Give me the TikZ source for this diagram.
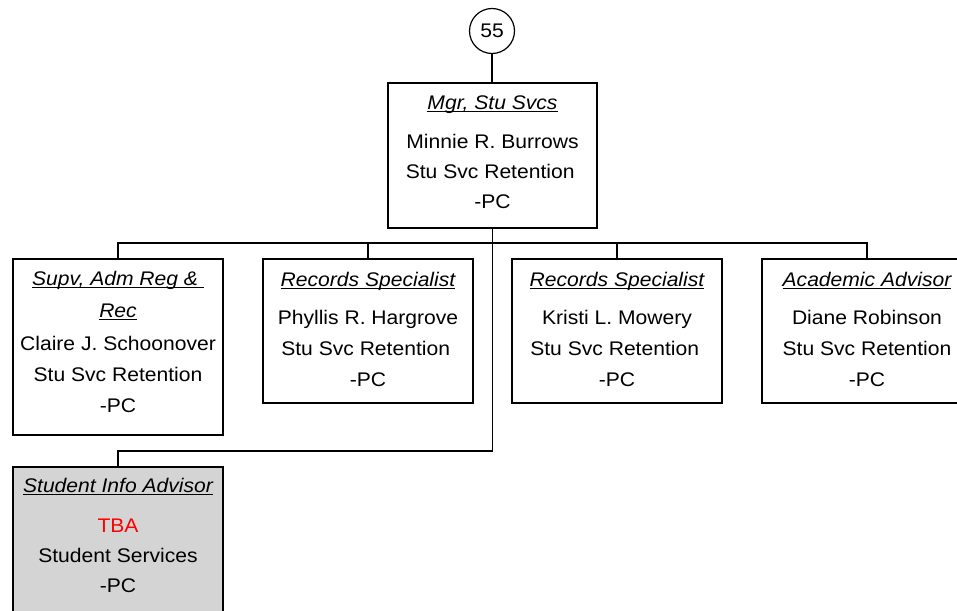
\documentclass[tikz,border=0pt]{standalone}
\usepackage{fontspec}
\setmainfont[FakeStretch=1.07]{Liberation Sans}
\newcommand\myul[1]{\setbox0=\hbox{\itshape #1}\rlap{\rule[-2.8pt]{\wd0}{1.1pt}}\box0}
\definecolor{boxgray}{RGB}{212,212,212}
\definecolor{tbared}{RGB}{255,0,0}
\begin{document}
\begin{tikzpicture}[x=1pt,y=-1pt,
  font=\fontsize{19.7}{22}\selectfont,
  box/.style={draw, line width=1.3pt, minimum width=210pt, anchor=north west, inner sep=0pt, outer sep=0pt},
  lbl/.style={inner sep=0pt, anchor=base},
  conn/.style={line width=1.3pt}]
\useasboundingbox (0,0) rectangle (957,610);

% top circle
\node[draw, circle, line width=1.2pt, minimum size=45pt, inner sep=0pt] (c55) at (492,31) {55};

% manager
\node[box, minimum width=209pt, minimum height=145pt] (mgr) at (388,83) {};
\node[lbl] (mgrT) at (492.5,109) {\myul{Mgr, Stu Svcs}};
\node[lbl] (mgrN) at (492.5,148) {Minnie R. Burrows};
\node[lbl] (mgrD) at (492.5,178) {Stu Svc Retention\phantom{i}};
\node[lbl] (mgrL) at (492.5,208) {-PC};

% row boxes
\node[box, minimum height=176pt] (supv) at (13,259) {};
\node[lbl] (supvT) at (118,285) {\myul{Supv, Adm Reg \&~}};
\node[lbl] (supvT2) at (118,317) {\myul{Rec}};
\node[lbl] (supvN) at (118,350) {Claire J. Schoonover};
\node[lbl] (supvD) at (118,381) {Stu Svc Retention};
\node[lbl] (supvL) at (118,412) {-PC};

\node[box, minimum height=144pt] (rec1) at (263,259) {};
\node[lbl] (rec1T) at (368,286) {\myul{Records Specialist}};
\node[lbl] (rec1N) at (368,324) {Phyllis R. Hargrove};
\node[lbl] (rec1D) at (368,355) {Stu Svc Retention\phantom{i}};
\node[lbl] (rec1L) at (368,386) {-PC};

\node[box, minimum height=144pt] (rec2) at (512,259) {};
\node[lbl] (rec2T) at (617,286) {\myul{Records Specialist}};
\node[lbl] (rec2N) at (617,324) {Kristi L. Mowery};
\node[lbl] (rec2D) at (617,355) {Stu Svc Retention\phantom{i}};
\node[lbl] (rec2L) at (617,386) {-PC};

\node[box, minimum height=144pt] (acad) at (762,259) {};
\node[lbl] (acadT) at (867,286) {\myul{Academic Advisor}};
\node[lbl] (acadN) at (867,324) {Diane Robinson};
\node[lbl] (acadD) at (867,355) {Stu Svc Retention};
\node[lbl] (acadL) at (867,386) {-PC};

% student info advisor
\node[box, fill=boxgray, minimum height=170pt] (sia) at (13,467) {};
\node[lbl] (siaT) at (118,492) {\myul{Student Info Advisor}};
\node[lbl, text=tbared] (siaN) at (118,532) {TBA};
\node[lbl] (siaD) at (118,562) {Student Services};
\node[lbl] (siaL) at (118,592) {-PC};

% connectors
\coordinate (busL) at (118,243);
\coordinate (busR) at (867,243);
\coordinate (bend1) at (492.5,451);
\coordinate (bend2) at (118,451);
\draw[conn] (c55.south) -- (mgr.north -| c55.south);
\draw[conn] (busL |- supv.north) -- (busL) -- (busR) -- (busR |- acad.north);
\draw[conn] (368,243) -- (rec1.north);
\draw[conn] (617,243) -- (rec2.north);
\draw[conn] (mgr.south -| bend1) -- (bend1) -- (bend2) -- (sia.north -| bend2);
\end{tikzpicture}
\end{document}
